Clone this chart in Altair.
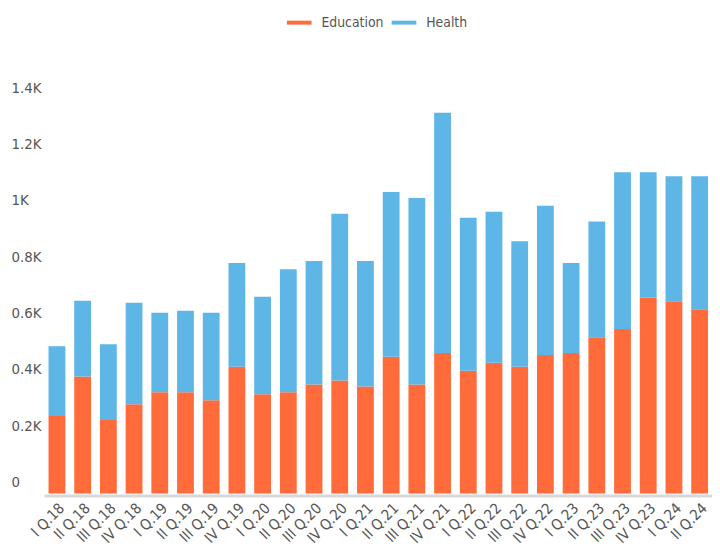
import altair as alt
import pandas as pd

quarters = [
    "I Q.18", "II Q.18", "III Q.18", "IV Q.18",
    "I Q.19", "II Q.19", "III Q.19", "IV Q.19",
    "I Q.20", "II Q.20", "III Q.20", "IV Q.20",
    "I Q.21", "II Q.21", "III Q.21", "IV Q.21",
    "I Q.22", "II Q.22", "III Q.22", "IV Q.22",
    "I Q.23", "II Q.23", "III Q.23", "IV Q.23",
    "I Q.24", "II Q.24",
]
education = [275, 415, 261, 317, 359, 359, 331, 450, 352, 359, 387, 401, 380,
             485, 387, 499, 436, 464, 450, 492, 499, 555, 584, 696, 682, 654]
health = [248, 269, 269, 360, 283, 290, 311, 368, 346, 437, 438, 592, 445,
          585, 662, 852, 543, 536, 445, 529, 319, 410, 556, 444, 444, 472]
series_names = ["Education", "Health"]
series_colors = ["#FF6B3A", "#5EB6E6"]
y_ticks = [0, 200, 400, 600, 800, 1000, 1200, 1400]

rows = []
for q, e, h in zip(quarters, education, health):
    rows.append({"quarter": q, "series": "Education", "value": e, "ord": 0})
    rows.append({"quarter": q, "series": "Health", "value": h, "ord": 1})
df = pd.DataFrame(rows)

font = "DejaVu Sans Condensed"
color_scale = alt.Scale(domain=series_names, range=series_colors)
legend = alt.Legend(
    title=None, orient="none", legendX=277, legendY=-92, direction="horizontal",
    symbolType="stroke", symbolSize=625, symbolStrokeWidth=4,
    labelFont=font, labelFontSize=14, labelColor="#555555",
    columnPadding=0, labelOffset=8, padding=0,
)

chart = alt.Chart(df).mark_bar(strokeWidth=0).encode(
    x=alt.X(
        "quarter:N", sort=quarters, title=None,
        scale=alt.Scale(range=[33.5, 709.5], paddingInner=9 / 26, paddingOuter=0.173),
        axis=alt.Axis(
            labelAngle=315, labelAlign="right", labelBaseline="top",
            ticks=False, tickSize=0, domainColor="#d9d9d9", domainWidth=3, offset=2,
            labelFont=font, labelFontSize=15, labelColor="#555555", labelPadding=5,
        ),
    ),
    y=alt.Y(
        "value:Q", stack="zero", title=None,
        scale=alt.Scale(domain=[0, 1400], nice=False),
        axis=alt.Axis(
            values=y_ticks,
            labelExpr="datum.value == 0 ? '0' : (datum.value / 1000) + 'K'",
            domain=False, ticks=False, tickSize=0, grid=False,
            labelAlign="left", labelPadding=0, labelOffset=-12, labelBaseline="middle",
            labelFont=font, labelFontSize=15, labelColor="#555555",
        ),
    ),
    color=alt.Color("series:N", scale=color_scale, legend=legend),
    stroke=alt.Stroke("series:N", scale=color_scale, legend=legend),
    order=alt.Order("ord:Q"),
).properties(
    width=708, height=399,
    padding={"left": 3, "top": 89, "right": 1, "bottom": 50},
    autosize=alt.AutoSizeParams(type="none"),
).configure_view(stroke=None)

chart.save("out.html", embed_options={"renderer": "svg", "actions": False})
